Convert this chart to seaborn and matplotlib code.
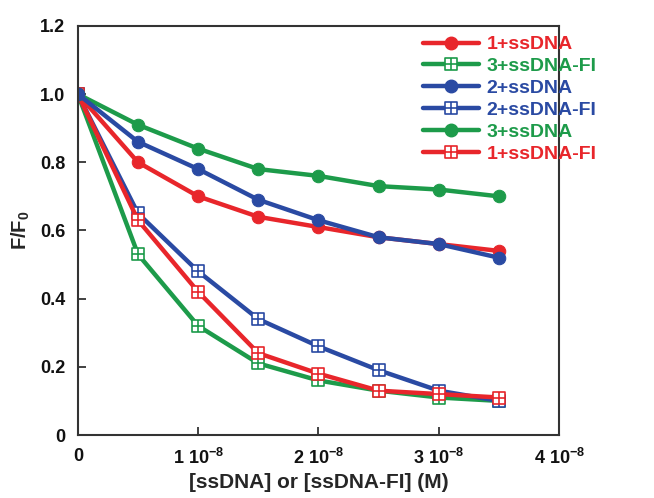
import numpy as np
import pandas as pd
import matplotlib
matplotlib.use("Agg")
import matplotlib.pyplot as plt
from matplotlib.path import Path
from matplotlib.lines import Line2D
import seaborn as sns

# ---- data ----
conc = [0, 0.5e-8, 1.0e-8, 1.5e-8, 2.0e-8, 2.5e-8, 3.0e-8, 3.5e-8]
s1 = [1.0, 0.80, 0.70, 0.64, 0.61, 0.58, 0.56, 0.54]
s2 = [1.0, 0.86, 0.78, 0.69, 0.63, 0.58, 0.56, 0.52]
s3 = [1.0, 0.91, 0.84, 0.78, 0.76, 0.73, 0.72, 0.70]
f1 = [1.0, 0.63, 0.42, 0.24, 0.18, 0.13, 0.12, 0.11]
f2 = [1.0, 0.65, 0.48, 0.34, 0.26, 0.19, 0.13, 0.10]
f3 = [1.0, 0.53, 0.32, 0.21, 0.16, 0.13, 0.11, 0.10]
x_ticks = [0, 1e-8, 2e-8, 3e-8, 4e-8]
x_labels = ["0", r"1 10$^{-8}$", r"2 10$^{-8}$", r"3 10$^{-8}$", r"4 10$^{-8}$"]
y_ticks = [0, 0.2, 0.4, 0.6, 0.8, 1.0, 1.2]
y_labels = ["0", "0.2", "0.4", "0.6", "0.8", "1.0", "1.2"]
legend_order = ["1+ssDNA", "3+ssDNA-FI", "2+ssDNA", "2+ssDNA-FI", "3+ssDNA", "1+ssDNA-FI"]

RED = "#e8262b"
GREEN = "#1d9b4a"
BLUE = "#2a4aa3"

# boxed-cross marker
verts = [(-1, -1), (1, -1), (1, 1), (-1, 1), (-1, -1),
         (0, -1), (0, 1), (-1, 0), (1, 0)]
codes = [Path.MOVETO, Path.LINETO, Path.LINETO, Path.LINETO, Path.CLOSEPOLY,
         Path.MOVETO, Path.LINETO, Path.MOVETO, Path.LINETO]
box_marker = Path(verts, codes)

series = [
    ("3+ssDNA-FI", f3, GREEN, "box"),
    ("2+ssDNA-FI", f2, BLUE, "box"),
    ("1+ssDNA-FI", f1, RED, "box"),
    ("1+ssDNA", s1, RED, "o"),
    ("3+ssDNA", s3, GREEN, "o"),
    ("2+ssDNA", s2, BLUE, "o"),
]

sns.set_theme(style="white")
plt.rcParams['font.family'] = ['Liberation Sans', 'DejaVu Sans']
plt.rcParams['font.weight'] = 'bold'
plt.rcParams['mathtext.fontset'] = 'custom'
plt.rcParams['mathtext.rm'] = 'Liberation Sans:bold'
plt.rcParams['mathtext.bf'] = 'Liberation Sans:bold'
plt.rcParams['mathtext.it'] = 'Liberation Sans:bold'
plt.rcParams['mathtext.default'] = 'bf'

fig = plt.figure(figsize=(6.54, 4.98), dpi=100)
ax = fig.add_axes([0.119, 0.1265, 0.736, 0.8215])

handles = {}
for name, vals, col, mk in series:
    df = pd.DataFrame({"x": conc, "y": vals})
    if mk == "o":
        kw = dict(marker="o", markersize=9, markerfacecolor=col, markeredgecolor=col)
    else:
        kw = dict(marker=box_marker, markersize=8, markerfacecolor="white",
                  markeredgecolor=col, markeredgewidth=1.2)
    sns.lineplot(data=df, x="x", y="y", ax=ax, color=col, linewidth=3.2, **kw)
    handles[name] = Line2D([], [], color=col, linewidth=3.2, **kw)

ax.set_xlim(0, 4e-8)
ax.set_ylim(0, 1.2)
ax.set_xticks(x_ticks)
ax.set_xticklabels(x_labels)
ax.set_yticks(y_ticks)
ax.set_yticklabels(y_labels)
ax.tick_params(axis="both", direction="in", length=6, width=1.3, color="#333333",
               labelsize=13, bottom=True, left=True, top=False, right=False)
ax.tick_params(axis="x", pad=9)
ax.tick_params(axis="y", pad=9)
for lab in ax.get_xticklabels() + ax.get_yticklabels():
    lab.set_fontweight("bold")
    lab.set_color("#111111")
for sp in ax.spines.values():
    sp.set_linewidth(1.5)
    sp.set_color("#333333")

ax.set_xlabel("[ssDNA] or [ssDNA-FI] (M)", fontsize=15, fontweight="bold", labelpad=4)
ax.set_ylabel(r"F/F$_{0}$", fontsize=14.5, fontweight="bold", labelpad=6)

leg = ax.legend([handles[n] for n in legend_order], legend_order,
                loc="upper left", bbox_to_anchor=(0.7, 0.995), frameon=False,
                fontsize=14, handlelength=2.9, labelspacing=0.22,
                handletextpad=0.4, borderaxespad=0.0)
for txt, n in zip(leg.get_texts(), legend_order):
    txt.set_color(handles[n].get_color())
    txt.set_fontweight("bold")

fig.savefig("out.png", dpi=100)
